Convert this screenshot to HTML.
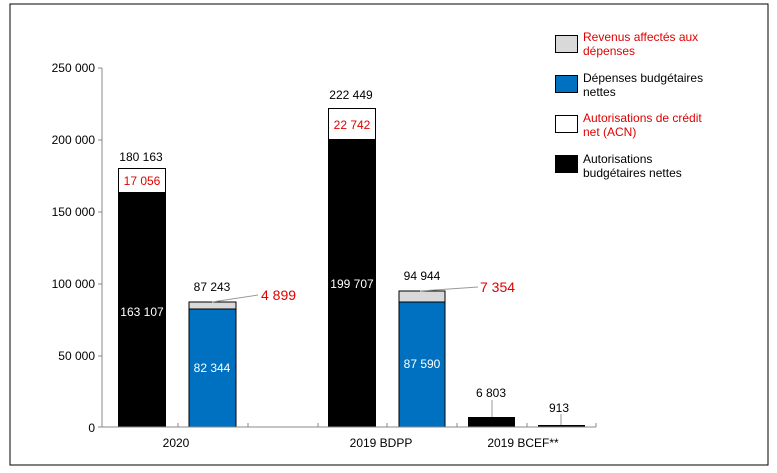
<!DOCTYPE html>
<html><head><meta charset="utf-8"><style>
body{margin:0;background:#fff;}
svg{display:block;font-family:"Liberation Sans",Arial,sans-serif;}
</style></head><body>
<svg width="777" height="473" viewBox="0 0 777 473">
<rect x="10" y="4" width="758" height="461" fill="#fff" stroke="#000" stroke-width="1"/>
<g font-size="12" text-anchor="end" fill="#000">
<text x="95" y="72">250 000</text>
<text x="95" y="144">200 000</text>
<text x="95" y="216">150 000</text>
<text x="95" y="288">100 000</text>
<text x="95" y="360">50 000</text>
<text x="95" y="432">0</text>
</g>
<line x1="102" y1="68" x2="102" y2="427" stroke="#888"/>
<g stroke="#888"><line x1="98" y1="68" x2="102" y2="68"/><line x1="98" y1="140" x2="102" y2="140"/><line x1="98" y1="212" x2="102" y2="212"/><line x1="98" y1="284" x2="102" y2="284"/><line x1="98" y1="356" x2="102" y2="356"/><line x1="98" y1="427" x2="102" y2="427"/></g>
<!-- bars -->
<rect x="118" y="193" width="48" height="234" fill="#000"/>
<rect x="118.5" y="168.5" width="47" height="24" fill="#fff" stroke="#000"/>
<rect x="189" y="309" width="47" height="118" fill="#0070c0" stroke="#000"/>
<rect x="189" y="302" width="47" height="7" fill="#d9d9d9" stroke="#000"/>
<rect x="328" y="140" width="48" height="287" fill="#000"/>
<rect x="328.5" y="108.5" width="47" height="31" fill="#fff" stroke="#000"/>
<rect x="399" y="302" width="46" height="125" fill="#0070c0" stroke="#000"/>
<rect x="399" y="291" width="46" height="11" fill="#d9d9d9" stroke="#000"/>
<rect x="468" y="417" width="47" height="10" fill="#000"/>
<rect x="538" y="425" width="47" height="2" fill="#000"/>
<line x1="102" y1="427" x2="596" y2="427" stroke="#888"/>
<g stroke="#888"><line x1="178" y1="423" x2="178" y2="427"/><line x1="248" y1="423" x2="248" y2="427"/><line x1="318" y1="423" x2="318" y2="427"/><line x1="387" y1="423" x2="387" y2="427"/><line x1="457" y1="423" x2="457" y2="427"/><line x1="527" y1="423" x2="527" y2="427"/><line x1="596" y1="423" x2="596" y2="427"/></g>
<!-- leaders -->
<g stroke="#999" fill="none"><line x1="212" y1="302" x2="258" y2="295"/><line x1="420" y1="291" x2="478" y2="287"/><line x1="492" y1="400" x2="492" y2="417"/><line x1="561" y1="414" x2="561" y2="425"/></g>
<g font-size="12" text-anchor="middle" fill="#000">
<text x="141" y="161">180 163</text>
<text x="212" y="291">87 243</text>
<text x="351" y="99">222 449</text>
<text x="422" y="280">94 944</text>
<text x="491" y="397">6 803</text>
<text x="559" y="412">913</text>
<text x="176" y="447">2020</text>
<text x="381" y="447">2019 BDPP</text>
<text x="523" y="447">2019 BCEF**</text>
</g>
<g font-size="12" text-anchor="middle" fill="#fff">
<text x="142" y="316">163 107</text>
<text x="212" y="372">82 344</text>
<text x="352" y="288">199 707</text>
<text x="422" y="368">87 590</text>
</g>
<g font-size="12" text-anchor="middle" fill="#e00000">
<text x="142" y="185">17 056</text>
<text x="352" y="129">22 742</text>
</g>
<g font-size="14" fill="#e00000">
<text x="261" y="300">4 899</text>
<text x="480" y="292">7 354</text>
</g>
<!-- legend -->
<rect x="555.5" y="35.5" width="22" height="17" fill="#d9d9d9" stroke="#000"/>
<rect x="555.5" y="75.5" width="22" height="17" fill="#0070c0" stroke="#000"/>
<rect x="555.5" y="115.5" width="22" height="17" fill="#fff" stroke="#000"/>
<rect x="555.5" y="155.5" width="22" height="17" fill="#000" stroke="#000"/>
<g font-size="12">
<text x="583" y="41" fill="#e00000">Revenus affectés aux</text>
<text x="583" y="55" fill="#e00000">dépenses</text>
<text x="583" y="82">Dépenses budgétaires</text>
<text x="583" y="96">nettes</text>
<text x="583" y="122" fill="#e00000">Autorisations de crédit</text>
<text x="583" y="136" fill="#e00000">net (ACN)</text>
<text x="583" y="163">Autorisations</text>
<text x="583" y="177">budgétaires nettes</text>
</g>
</svg>
</body></html>
